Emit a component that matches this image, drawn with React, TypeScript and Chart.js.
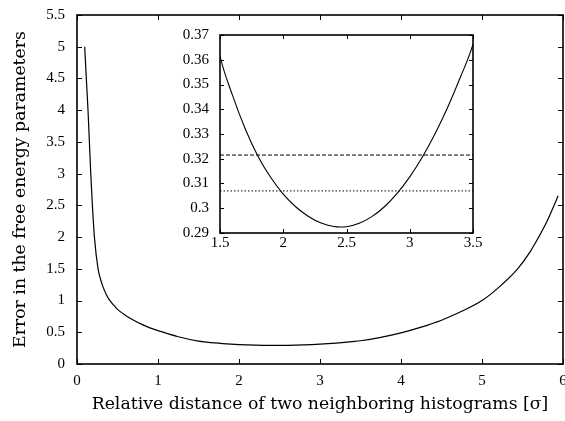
import React, { useEffect, useRef } from "react";
import { Chart, registerables } from "chart.js";

Chart.register(...registerables);

// Main curve: relative distance [sigma] vs error
const X_VALUES = [
  0.095, 0.115, 0.136, 0.153, 0.17, 0.19, 0.215, 0.26, 0.29, 0.32, 0.36, 0.39, 0.45, 0.5, 0.6, 0.7, 0.8, 0.9, 1.0, 1.25,
  1.5, 1.6, 1.7, 1.8, 1.9, 2.0, 2.1, 2.2, 2.3, 2.4, 2.45, 2.5, 2.6, 2.7, 2.8, 2.9, 3.0, 3.1, 3.2, 3.3, 3.4, 3.5,
  3.75, 4.0, 4.25, 4.5, 4.75, 5.0, 5.2, 5.44, 5.6, 5.7, 5.8, 5.89, 5.94,
];
const ERROR_VALUES = [
  5.0, 4.5, 4.0, 3.5, 3.0, 2.5, 2.0, 1.5, 1.34, 1.22, 1.1, 1.03, 0.93, 0.86, 0.765, 0.69, 0.625, 0.57, 0.525, 0.43,
  0.3615, 0.3455, 0.332, 0.321, 0.3125, 0.3057, 0.3005, 0.2967, 0.294, 0.2926, 0.2924, 0.2925, 0.2939, 0.2966, 0.3006, 0.306, 0.3127, 0.3207, 0.3301, 0.3408, 0.3529, 0.3663,
  0.42, 0.49, 0.58, 0.69, 0.83, 1.0, 1.2, 1.5, 1.78, 2.0, 2.24, 2.5, 2.65,
];

// Inset reference levels
const DASHED_LEVEL = 0.3215;
const DOTTED_LEVEL = 0.307;
const INSET_X_RANGE = [1.5, 3.5];

const MAIN_X_TITLE = "Relative distance of two neighboring histograms [σ]";
const MAIN_Y_TITLE = "Error in the free energy parameters";

const TICK_FONT = "'Liberation Serif', serif";
const TITLE_FONT = "'DejaVu Serif', serif";

const framePlugin = {
  id: "frameTicks",
  afterDatasetsDraw(chart: any, _args: any, opts: any) {
    const { ctx, chartArea } = chart;
    const { left, right, top, bottom } = chartArea;
    const xs = chart.scales.x;
    const ys = chart.scales.y;
    const len = opts.len || 5;
    ctx.save();
    ctx.strokeStyle = "#000";
    ctx.lineWidth = 1;
    ctx.beginPath();
    xs.ticks.forEach((t: any) => {
      const px = Math.round(xs.getPixelForValue(t.value)) + 0.5;
      ctx.moveTo(px, bottom);
      ctx.lineTo(px, bottom - len);
      ctx.moveTo(px, top);
      ctx.lineTo(px, top + len);
    });
    ys.ticks.forEach((t: any) => {
      const py = Math.round(ys.getPixelForValue(t.value)) + 0.5;
      ctx.moveTo(left, py);
      ctx.lineTo(left + len, py);
      ctx.moveTo(right, py);
      ctx.lineTo(right - len, py);
    });
    ctx.stroke();
    ctx.lineWidth = 1.6;
    ctx.strokeRect(left, top, right - left, bottom - top);
    ctx.restore();
  },
};

const fmt = (v: any) => String(Math.round(Number(v) * 100) / 100);

const fixX = (h: number) => (s: any) => {
  s.height = h;
  s.paddingLeft = 0;
  s.paddingRight = 0;
};
const fixY = (w: number) => (s: any) => {
  s.width = w;
  s.paddingTop = 0;
  s.paddingBottom = 0;
};

export default function App() {
  const mainRef = useRef<HTMLCanvasElement>(null);
  const insetRef = useRef<HTMLCanvasElement>(null);

  useEffect(() => {
    document.body.style.overflow = "hidden";
    const pts = X_VALUES.map((x, i) => ({ x, y: ERROR_VALUES[i] }));

    const main = new Chart(mainRef.current!, {
      type: "line",
      data: {
        datasets: [
          {
            data: pts,
            borderColor: "#000",
            borderWidth: 1.2,
            pointRadius: 0,
            cubicInterpolationMode: "monotone",
            fill: false,
          },
        ],
      },
      options: {
        animation: false,
        responsive: false,
        maintainAspectRatio: false,
        parsing: false as any,
        layout: { padding: { top: 15, right: 17, left: 0, bottom: 0 } },
        plugins: {
          legend: { display: false },
          tooltip: { enabled: false },
          frameTicks: { len: 5 },
        } as any,
        scales: {
          x: {
            type: "linear",
            min: 0,
            max: 6,
            grid: { display: false, drawTicks: false },
            border: { display: false },
            ticks: { stepSize: 1, color: "#000", padding: 8, font: { family: TICK_FONT, size: 15 }, callback: fmt, maxRotation: 0 },
            title: { display: true, text: MAIN_X_TITLE, color: "#000", font: { family: TITLE_FONT, size: 17.3 }, padding: { top: 0, bottom: 6 } },
            afterFit: fixX(57),
          },
          y: {
            type: "linear",
            min: 0,
            max: 5.5,
            grid: { display: false, drawTicks: false },
            border: { display: false },
            ticks: { stepSize: 0.5, color: "#000", padding: 12, font: { family: TICK_FONT, size: 15 }, callback: fmt },
            title: { display: true, text: MAIN_Y_TITLE, color: "#000", font: { family: TITLE_FONT, size: 17.3 }, padding: { top: 10, bottom: 0 } },
            afterFit: fixY(77),
          },
        },
      },
      plugins: [framePlugin],
    });

    const inset = new Chart(insetRef.current!, {
      type: "line",
      data: {
        datasets: [
          {
            data: pts,
            borderColor: "#000",
            borderWidth: 1.1,
            pointRadius: 0,
            cubicInterpolationMode: "monotone",
            fill: false,
          },
          {
            data: INSET_X_RANGE.map((x) => ({ x, y: DASHED_LEVEL })),
            borderColor: "#000",
            borderWidth: 1,
            borderDash: [4, 2],
            pointRadius: 0,
            fill: false,
          },
          {
            data: INSET_X_RANGE.map((x) => ({ x, y: DOTTED_LEVEL })),
            borderColor: "#000",
            borderWidth: 1,
            borderDash: [1.5, 2],
            pointRadius: 0,
            fill: false,
          },
        ],
      },
      options: {
        animation: false,
        responsive: false,
        maintainAspectRatio: false,
        parsing: false as any,
        layout: { padding: { top: 15, right: 17, left: 0, bottom: 0 } },
        plugins: {
          legend: { display: false },
          tooltip: { enabled: false },
          frameTicks: { len: 4 },
        } as any,
        scales: {
          x: {
            type: "linear",
            min: 1.5,
            max: 3.5,
            grid: { display: false, drawTicks: false },
            border: { display: false },
            ticks: { stepSize: 0.5, color: "#000", padding: 1, font: { family: TICK_FONT, size: 15 }, callback: fmt, maxRotation: 0 },
            afterFit: fixX(27),
          },
          y: {
            type: "linear",
            min: 0.29,
            max: 0.37,
            grid: { display: false, drawTicks: false },
            border: { display: false },
            ticks: { stepSize: 0.01, color: "#000", padding: 11, font: { family: TICK_FONT, size: 15 }, callback: fmt },
            afterFit: fixY(60),
          },
        },
      },
      plugins: [framePlugin],
    });

    return () => {
      main.destroy();
      inset.destroy();
    };
  }, []);

  return (
    <div style={{ position: "fixed", left: 0, top: 0, width: 565, height: 421, overflow: "hidden", background: "#fff" }}>
      <canvas ref={mainRef} width={580} height={421} style={{ position: "absolute", left: 0, top: 0, width: 580, height: 421 }} />
      <canvas ref={insetRef} width={330} height={240} style={{ position: "absolute", left: 160, top: 20, width: 330, height: 240 }} />
    </div>
  );
}
